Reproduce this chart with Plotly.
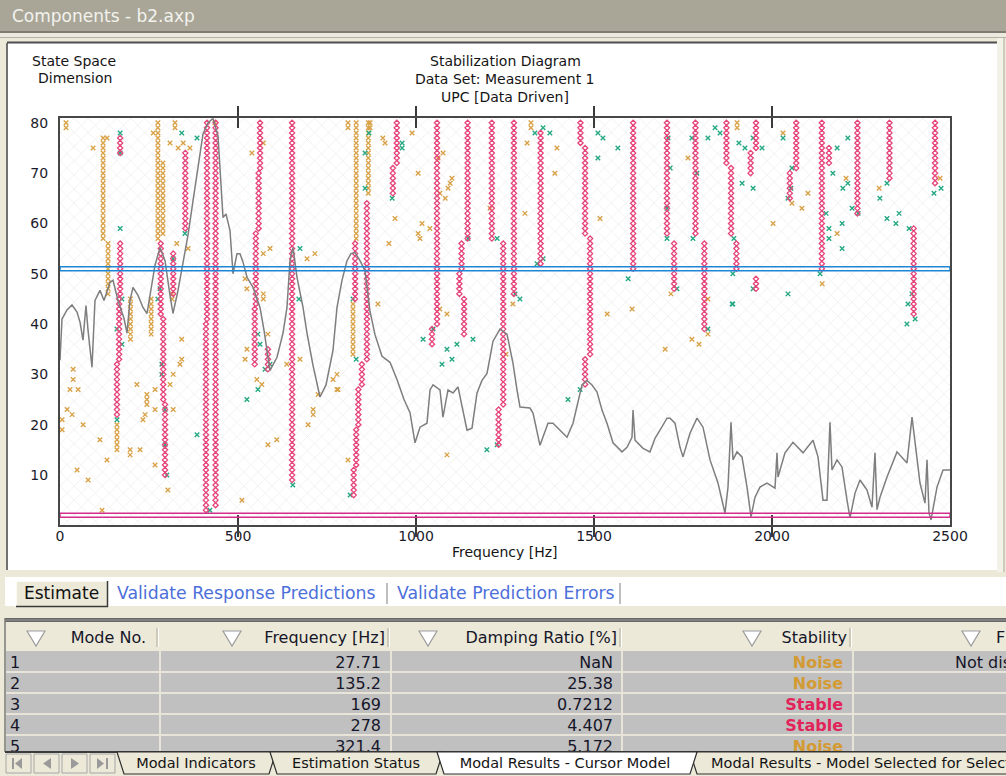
import plotly.graph_objects as go

# ---------------------------------------------------------------- data
# Stable poles: (frequency [Hz], first model order, last model order)
stable_segments = [
    (160, 22, 32), (166, 33, 45), (169, 46, 56), (169, 74, 77),
    (283, 42, 56), (290, 25, 41), (295, 10, 24),
    (318, 46, 54),
    (352, 59, 74),
    (410, 3, 40), (413, 41, 80),
    (437, 4, 80),
    (562, 71, 80), (558, 59, 70), (550, 44, 58), (547, 32, 43), (584, 31, 35),
    (652, 9, 80),
    (829, 45, 56), (862, 33, 64), (848, 28, 32), (838, 20, 27), (832, 12, 19), (825, 6, 11),
    (946, 72, 80), (935, 66, 71),
    (1059, 40, 80), (1045, 36, 39),
    (1145, 57, 80), (1128, 51, 56), (1122, 46, 50), (1135, 38, 45),
    (1213, 57, 80),
    (1245, 24, 56), (1232, 16, 23),
    (1275, 46, 80),
    (1350, 52, 78),
    (1462, 76, 80), (1475, 58, 75), (1489, 34, 57), (1475, 28, 33),
    (1610, 51, 80),
    (1705, 58, 80), (1725, 47, 56),
    (1785, 58, 80), (1810, 39, 56),
    (1872, 72, 80), (1885, 58, 71), (1900, 51, 56),
    (1955, 75, 80), (1940, 70, 74), (1955, 47, 49),
    (2068, 71, 80), (2050, 65, 70),
    (2140, 51, 80), (2160, 72, 75),
    (2240, 62, 80),
    (2330, 69, 80),
    (2398, 42, 59),
    (2458, 68, 80),
]

# Noise poles lying on vertical chains: (frequency, first order, last order)
noise_segments = [
    (121, 57, 77), (135, 46, 56), (160, 15, 20), (198, 37, 45),
    (275, 57, 80), (289, 58, 72), (256, 38, 45),
    (832, 57, 80), (866, 66, 80), (823, 34, 44),
]

# Isolated noise poles: (frequency, model order)
noise_points = [
    (17, 80), (17, 79), (93, 75), (132, 77), (262, 78), (323, 80), (323, 79), (309, 76),
    (346, 76), (332, 75), (365, 75), (435, 80), (539, 74), (571, 76), (590, 55), (571, 54),
    (571, 46), (571, 45), (694, 53), (716, 54), (360, 55), (328, 56), (520, 49), (525, 47),
    (315, 46), (315, 45),
    (37, 31), (37, 29), (28, 27), (51, 27), (20, 23), (34, 22), (6, 21), (6, 19), (65, 20),
    (112, 17), (48, 11), (79, 9), (132, 13), (118, 3), (197, 15), (225, 15), (197, 14),
    (216, 28), (244, 26), (244, 25), (244, 24), (267, 27), (267, 23), (233, 21), (239, 22),
    (267, 12), (318, 23), (309, 28), (318, 30), (337, 32), (342, 33), (342, 37), (303, 7),
    (511, 5), (520, 33), (525, 35), (584, 38), (553, 29), (567, 28), (584, 16), (609, 17),
    (637, 32), (674, 33), (697, 20), (711, 23), (711, 22), (725, 26), (767, 29), (778, 27),
    (778, 30),
    (809, 80), (809, 79), (871, 80), (871, 79), (907, 77), (913, 76), (989, 78), (1076, 74),
    (1062, 73), (1006, 70), (1101, 69), (1096, 68), (1090, 67), (1067, 66), (1082, 65),
    (941, 61), (1017, 60), (1039, 59), (1006, 58), (1011, 57), (924, 56), (1208, 63),
    (1306, 62), (1323, 80), (1323, 79), (1312, 76), (1396, 75), (1390, 70), (1517, 61),
    (893, 44), (1067, 43), (1087, 42), (1272, 44), (1537, 42), (1607, 43),
    (1087, 14), (809, 13), (1700, 35), (781, 27), (1253, 34),
    (1902, 80), (1902, 79), (2031, 78), (1764, 73), (2101, 66), (2056, 64), (2084, 63),
    (2003, 60), (2183, 58), (2141, 48), (2472, 69), (2301, 67), (2208, 69), (1716, 46),
    (1820, 45), (1775, 37), (1795, 36), (1820, 38),
]

# Poles stable in frequency only: (frequency, model order)
freq_stable_points = [
    (169, 78), (169, 74), (342, 78), (385, 77), (169, 59), (674, 55), (351, 58), (318, 53),
    (281, 47), (275, 45), (174, 45), (671, 45),
    (160, 39), (174, 36), (160, 21), (286, 32), (286, 30), (295, 23), (295, 16), (300, 10),
    (385, 18), (421, 3), (525, 25), (556, 27), (556, 38), (562, 36), (576, 31), (590, 32),
    (654, 8),
    (868, 78), (961, 76), (961, 75), (857, 74), (857, 67), (933, 65), (1146, 57), (1228, 57),
    (1334, 78), (1376, 78), (1357, 79), (1357, 53), (1340, 52), (1511, 78), (1525, 77),
    (1567, 75), (1511, 73), (1278, 46), (1292, 45), (1596, 49), (823, 45),
    (1020, 37), (1048, 39), (1115, 36), (1087, 35), (1101, 33), (1073, 32), (1160, 37),
    (1199, 15), (1228, 16), (1427, 25), (1461, 27), (815, 6), (832, 33),
    (1708, 77), (1775, 77), (1820, 77), (1840, 79), (1854, 78), (1907, 76), (1924, 75),
    (1947, 77), (1972, 75), (1714, 71), (1789, 70), (1916, 68), (1947, 67), (1705, 63),
    (1705, 57), (1778, 57), (1893, 57), (2056, 71), (2053, 67), (2045, 65), (2183, 75),
    (2213, 77), (2171, 70), (2213, 68), (2199, 67), (2225, 63), (2242, 62), (2152, 62),
    (2160, 59), (2160, 57), (2197, 60), (2197, 55), (2135, 50), (1890, 50), (2323, 68),
    (2303, 65), (2323, 61), (2348, 60), (2357, 62), (2385, 59), (2455, 66), (2475, 67),
    (1947, 47), (2045, 46), (1890, 44), (2393, 46), (2382, 44), (1733, 47), (2031, 77),
    (1888, 44), (1820, 39), (2379, 40), (2402, 41),
]

# Sum of FRFs drawn behind the poles: (frequency [Hz], level on the diagram scale)
frf_points = [
    (0, 32.8), (5.6, 41.0), (19.7, 42.8), (33.7, 43.8), (47.8, 42.4), (56.2, 40.4),
    (64.6, 36.8), (73, 43.7), (78.7, 38.8), (89.9, 31.4), (98.3, 44.7), (112.4, 46.7),
    (123.6, 44.7), (140.5, 48.3), (148.9, 48.7), (162.9, 44.7), (179.8, 41.1), (188.2, 38.2),
    (196.6, 44.7), (205.1, 47.3), (219.1, 45.7), (233.1, 43.3), (244.4, 42.1), (255.6, 46.7),
    (266.9, 51.7), (280.9, 55.2), (295, 52.6), (309, 45.7), (317.4, 42.1), (331.5, 46.7),
    (342.7, 51.3), (359.6, 57.7), (373.6, 64.5), (387.6, 71.5), (401.7, 77.8), (415.7, 80.0),
    (429.8, 80.9), (443.8, 77.4), (449.4, 71.1), (457.9, 61.2), (466.3, 61.9), (477.5, 58.6),
    (486, 50.0), (497.2, 54.0), (505.6, 54.0), (514.1, 52.3), (525.3, 49.3), (542.1, 47.3),
    (561.8, 43.3), (573, 38.8), (589.9, 30.8), (609.6, 33.4), (626.4, 38.2), (637.6, 43.3),
    (646.1, 52.6), (654.5, 55.2), (665.8, 49.3), (682.6, 43.3), (693.8, 38.2), (710.7, 31.8),
    (730.3, 25.5), (747.2, 27.9), (766.9, 34.8), (778.1, 43.3), (792.1, 48.7), (806.2, 52.6),
    (817.4, 54.0), (828.7, 54.2), (842.7, 52.6), (856.7, 50.6), (870.8, 42.5), (884.8, 37.9),
    (904.5, 33.6), (927, 32.4), (946.6, 29.0), (966.3, 25.0), (983.2, 22.4), (997.2, 16.4),
    (1011.3, 19.5), (1030.9, 20.3), (1039.4, 26.9), (1047.8, 27.9), (1067.4, 26.9),
    (1075.8, 21.5), (1089.9, 26.9), (1103.9, 26.3), (1118, 27.5), (1132, 22.9), (1143.3, 18.9),
    (1157.3, 19.3), (1171.4, 26.3), (1185.4, 28.8), (1199.5, 30.2), (1216.3, 36.6),
    (1236, 39.0), (1255.6, 38.0), (1272.5, 32.2), (1283.7, 26.9), (1292.1, 23.5),
    (1320.2, 23.3), (1328.7, 22.3), (1348.3, 15.9), (1370.8, 20.3), (1384.8, 20.3),
    (1412.9, 18.3), (1424.2, 17.5), (1441, 20.3), (1455.1, 24.9), (1466.3, 27.9),
    (1480.4, 28.8), (1494.4, 27.9), (1508.5, 26.5), (1522.5, 22.9), (1536.5, 20.3),
    (1553.4, 16.4), (1578.7, 14.6), (1592.7, 15.5), (1606.7, 17.5), (1609.6, 22.9),
    (1615.2, 16.9), (1637.7, 15.3), (1657.3, 14.6), (1671.4, 17.3), (1685.4, 18.9),
    (1705.1, 21.3), (1713.5, 21.3), (1727.5, 20.3), (1741.6, 15.5), (1750, 13.6),
    (1769.7, 18.3), (1789.3, 21.3), (1806.2, 19.5), (1825.9, 13.0), (1848.3, 8.4),
    (1868, 2.4), (1876.4, 7.6), (1884.8, 20.5), (1890.5, 13.0), (1901.7, 14.6),
    (1915.7, 13.6), (1929.8, 7.6), (1941, 1.7), (1952.3, 5.6), (1966.3, 7.6), (1986, 8.4),
    (2008.4, 7.4), (2014.1, 14.4), (2016.9, 9.6), (2036.5, 14.4), (2059, 16.5),
    (2087.1, 14.4), (2115.2, 16.9), (2129.2, 13.6), (2143.3, 5.0), (2154.5, 5.0),
    (2162.9, 20.5), (2168.5, 11.0), (2182.6, 13.0), (2196.6, 11.6), (2210.7, 5.0),
    (2219.1, 1.5), (2233.2, 6.4), (2247.2, 9.0), (2266.9, 7.0), (2280.9, 3.6),
    (2289.3, 14.4), (2295, 3.1), (2303.4, 5.6), (2323.1, 9.6), (2351.1, 14.6),
    (2379.2, 12.4), (2393.3, 21.5), (2401.7, 16.4), (2415.7, 8.4), (2429.8, 4.4),
    (2435.4, 13.0), (2441, 2.4), (2446.7, 1.1), (2463.5, 7.6), (2480.4, 11.0), (2500, 11.0),
]

x_ticks = [0, 500, 1000, 1500, 2000, 2500]
y_ticks = [10, 20, 30, 40, 50, 60, 70, 80]
x_range = [0, 2500]
y_range = [0, 80.9]

cursor_order = 51          # model selected by the cursor
lower_order_limit = 2      # minimum order line

# Modal results table for the cursor model
mode_no = [1, 2, 3, 4, 5]
mode_freq = ["27.71", "135.2", "169", "278", "321.4"]
mode_damping = ["NaN", "25.38", "0.7212", "4.407", "5.172"]
mode_stability = ["Noise", "Noise", "Stable", "Stable", "Noise"]
mode_display = ["Not displayed", "", "", "", ""]
table_headers = ["Mode No.", "Frequency [Hz]", "Damping Ratio [%]", "Stability", "F"]
sheet_tabs = ["Modal Indicators", "Estimation Status", "Modal Results - Cursor Model",
              "Modal Results - Model Selected for Selection"]

# ---------------------------------------------------------------- helpers
W, H = 1006, 776
FONT = "DejaVu Sans"
STABLE_C = "#E6457A"
NOISE_C = "#D9A248"
FREQ_C = "#25A883"
TXT_C = "#16162A"
STATUS_C = {"Noise": "#D49A33", "Stable": "#E2245B"}


def X(p):
    return p / W


def Y(p):
    return 1 - p / H


shapes, anns = [], []


def rect(x0, y0, x1, y1, fill=None, line=None, lw=1, layer="below"):
    shapes.append(dict(type="rect", xref="paper", yref="paper",
                       x0=X(x0), x1=X(x1), y0=Y(y1), y1=Y(y0),
                       fillcolor=fill or "rgba(0,0,0,0)",
                       line=dict(color=line or "rgba(0,0,0,0)", width=lw if line else 0),
                       layer=layer))


def seg(x0, y0, x1, y1, color, w=1, layer="below"):
    shapes.append(dict(type="line", xref="paper", yref="paper",
                       x0=X(x0), x1=X(x1), y0=Y(y0), y1=Y(y1),
                       line=dict(color=color, width=w), layer=layer))


def poly(pts, fill, line=None, lw=1, layer="below"):
    d = "M " + " L ".join(f"{X(a):.5f},{Y(b):.5f}" for a, b in pts) + " Z"
    shapes.append(dict(type="path", xref="paper", yref="paper", path=d,
                       fillcolor=fill, line=dict(color=line or "rgba(0,0,0,0)",
                                                 width=lw if line else 0),
                       layer=layer))


def text(x, y, s, size=14, color="#151515", anchor="left"):
    anns.append(dict(xref="paper", yref="paper", x=X(x), y=Y(y), text=s,
                     showarrow=False, xanchor=anchor, yanchor="middle",
                     font=dict(family=FONT, size=size, color=color)))


def expand(segments):
    fs, os_ = [], []
    for f, lo, hi in segments:
        for o in range(lo, hi + 1):
            fs.append(f)
            os_.append(o)
    return fs, os_


# ---------------------------------------------------------------- window chrome
rect(0, 0, W, 31, "#A9A698")
rect(0, 31, W, 33, "#7F7D72")
rect(0, 33, W, 37, "#ECEADF")
rect(0, 37, W, 38, "#B4B1A5")
rect(8, 43, 997, 570, "white")
seg(7, 43, 7, 570, "#707070", 2)
seg(7, 42.5, 997, 42.5, "#4E4E4E", 2)
rect(997, 38, 1003, 572, "#F3F2E9")
seg(1004, 38, 1004, 572, "#C4C1B2", 1.5)
text(10, 16, "Components - b2.axp", 17, "#F2F2EE")

# chart texts
text(74, 61, "State Space", 14, anchor="center")
text(75, 78, "Dimension", 14, anchor="center")
text(505, 61, "Stabilization Diagram", 14, anchor="center")
text(505, 79, "Data Set: Measurement 1", 14, anchor="center")
text(505, 97, "UPC [Data Driven]", 14, anchor="center")
text(505, 552, "Frequency [Hz]", 14, anchor="center")

# estimate / validation tab strip
rect(5, 577, W, 606, "white")
rect(16, 581, 107, 607, "#ECE9D8")
seg(16, 581, 107, 581, "#FFFFFF", 1.5)
seg(16, 581, 16, 607, "#FFFFFF", 1.5)
seg(16, 606.5, 108, 606.5, "#3A3A3A", 1.5)
seg(107.5, 581, 107.5, 607, "#3A3A3A", 1.5)
text(61, 593, "Estimate", 17, "#111111", "center")
text(115, 593, "Validate Response Predictions", 17.3, "#4D6FDA")
seg(387, 583, 387, 604, "#A9A9A9", 1.5)
text(395, 593, "Validate Prediction Errors", 17.3, "#4D6FDA")
seg(620, 583, 620, 604, "#A9A9A9", 1.5)

# table frame and header
rect(5, 618, W, 622, "#676767")
seg(5, 620, W, 620, "#9A9A9A", 1)
rect(5, 622, W, 650, "#ECE9D8")
seg(5, 618, 5, 752, "#7A7A7A", 1.5)
for xs in [157, 388, 620, 850]:
    seg(xs, 628, xs, 647, "#C3BFB1", 1.5)
    seg(xs + 1.5, 628, xs + 1.5, 647, "#FFFFFF", 1)
for cx in [36, 232, 428, 752, 971]:
    poly([(cx - 9, 631), (cx + 9, 631), (cx, 646)], "#FFFFFF", "#9C9C9C", 1.2)

# table rows
rect(6, 651, W, 752, "#C0C0C0")
for ys in [672, 693, 714, 735]:
    seg(6, ys, W, ys, "#E8E4D8", 2)
for xs in [160, 391, 622, 853]:
    seg(xs, 651, xs, 752, "#E8E4D8", 2)

# sheet tab bar at the bottom
rect(0, 752, W, H, "#ECE9D8")
seg(5, 752, W, 752, "#3C3C3C", 2)
for bx in [6, 34, 62, 90]:
    rect(bx, 754, bx + 25, 773, "#ECE9D8", "#A6A6A6", 1)
ic = "#9A9A9A"
seg(13, 758, 13, 769, ic, 2)
poly([(15, 763.5), (22, 758), (22, 769)], ic)
poly([(43, 763.5), (51, 758), (51, 769)], ic)
poly([(71, 758), (71, 769), (79, 763.5)], ic)
poly([(97, 758), (97, 769), (104, 763.5)], ic)
seg(107, 758, 107, 769, ic, 2)

tab_spans = [(117, 276), (270, 443), (437, 697), (690, 1060)]
active_tab = 2
for k in [0, 1, 3, 2]:
    x0, x1 = tab_spans[k]
    poly([(x0, 752), (x0 + 7, 774), (x1 - 7, 774), (x1, 752)],
         "#FFFFFF" if k == active_tab else "#ECE9D8", "#2E2E2E", 1.2)

# ---------------------------------------------------------------- traces
fig = go.Figure()

# hatched diagram background
fig.add_trace(go.Bar(
    x=[sum(x_range) / 2], y=[y_range[1]], width=[x_range[1] - x_range[0]], base=0,
    marker=dict(color="white", line=dict(width=0),
                pattern=dict(shape="x", size=10, solidity=0.12,
                             fgcolor="#D6D6D6", bgcolor="white")),
    hoverinfo="skip", showlegend=False))

nf, no = expand(noise_segments)
nf += [p[0] for p in noise_points]
no += [p[1] for p in noise_points]
fig.add_trace(go.Scatter(
    x=nf, y=no, mode="markers", hoverinfo="skip",
    marker=dict(symbol="x-thin", size=4.5, color=NOISE_C,
                line=dict(width=1.4, color=NOISE_C))))

fig.add_trace(go.Scatter(
    x=[p[0] for p in freq_stable_points], y=[p[1] for p in freq_stable_points],
    mode="markers", hoverinfo="skip",
    marker=dict(symbol="x-thin", size=4.5, color=FREQ_C,
                line=dict(width=1.4, color=FREQ_C))))

sf, so = expand(stable_segments)
fig.add_trace(go.Scatter(
    x=sf, y=so, mode="markers", hoverinfo="skip",
    marker=dict(symbol="diamond-open", size=4, color=STABLE_C,
                line=dict(width=1.3, color=STABLE_C))))

fig.add_trace(go.Scatter(
    x=[p[0] for p in frf_points], y=[p[1] for p in frf_points],
    mode="lines", yaxis="y2", hoverinfo="skip",
    line=dict(color="#7E7E7E", width=1.5)))

# table cells, written on a pixel grid that clips at the table edges
cell_x, cell_y, cell_t, cell_pos, cell_c = [], [], [], [], []


def cell(x, y, s, pos, color=TXT_C):
    cell_x.append(x)
    cell_y.append(y)
    cell_t.append(s)
    cell_pos.append(pos)
    cell_c.append(color)


for s, xr in zip(table_headers[:4], [146, 385, 617, 847]):
    cell(xr, 639, s, "middle left")
cell(996, 639, table_headers[4], "middle right")
for i in range(len(mode_no)):
    yc = 664 + 21 * i
    cell(10, yc, str(mode_no[i]), "middle right")
    cell(381, yc, mode_freq[i], "middle left")
    cell(613, yc, mode_damping[i], "middle left")
    cell(843, yc, "<b>" + mode_stability[i] + "</b>", "middle left",
         STATUS_C[mode_stability[i]])
    if mode_display[i]:
        cell(955, yc, mode_display[i], "middle right")

fig.add_trace(go.Scatter(
    x=cell_x, y=cell_y, text=cell_t, mode="text", textposition=cell_pos,
    textfont=dict(family=FONT, size=16, color=cell_c), cliponaxis=True,
    xaxis="x3", yaxis="y3", hoverinfo="skip"))

# sheet tab labels
tab_x = [196, 356, 565, 711]
tab_pos = ["middle center", "middle center", "middle center", "middle right"]
fig.add_trace(go.Scatter(
    x=tab_x, y=[764] * 4, text=sheet_tabs, mode="text", textposition=tab_pos,
    textfont=dict(family=FONT, size=14.5, color="#141414"), cliponaxis=True,
    xaxis="x3", yaxis="y4", hoverinfo="skip"))

# cursor bands
shapes.append(dict(type="rect", xref="x", yref="y", x0=x_range[0], x1=x_range[1],
                   y0=cursor_order - 0.4, y1=cursor_order + 0.4,
                   line=dict(color="#1F86D4", width=1.6), layer="above"))
shapes.append(dict(type="rect", xref="x", yref="y", x0=x_range[0], x1=x_range[1],
                   y0=lower_order_limit - 0.4, y1=lower_order_limit + 0.4,
                   line=dict(color="#D22E8C", width=1.4), layer="above"))

dom_x = [60 / W, 950 / W]
dom_y = [1 - 525.3 / H, 1 - 118.3 / H]
tick_font = dict(family=FONT, size=14, color="#1B1B2A")
hidden = dict(visible=False, showgrid=False, zeroline=False, fixedrange=True,
              automargin=False)

fig.update_layout(
    width=W, height=H, autosize=False,
    margin=dict(l=0, r=0, t=0, b=0, pad=0, autoexpand=False),
    paper_bgcolor="#ECE9D8", plot_bgcolor="rgba(0,0,0,0)",
    showlegend=False, hovermode=False, bargap=0,
    xaxis=dict(domain=dom_x, range=x_range, tickvals=x_ticks, ticks="inside",
               ticklen=10, tickwidth=2, tickcolor="#3A3A3A", mirror="allticks",
               showline=True, linecolor="#474747", linewidth=2, showgrid=False,
               zeroline=False, tickfont=tick_font, fixedrange=True,
               ticklabelstandoff=-3, automargin=False),
    yaxis=dict(domain=dom_y, range=y_range, tickvals=y_ticks, ticks="outside",
               ticklen=7, tickcolor="rgba(0,0,0,0)", showline=True, mirror=True,
               linecolor="#474747", linewidth=2, showgrid=False, zeroline=False,
               tickfont=tick_font, fixedrange=True, automargin=False),
    yaxis2=dict(domain=dom_y, range=y_range, overlaying="y", showline=False,
                showticklabels=False, showgrid=False, zeroline=False, ticks="",
                automargin=False),
    xaxis3=dict(domain=[0, 1], range=[0, W], anchor="y3", **hidden),
    yaxis3=dict(domain=[Y(751), Y(622)], range=[751, 622], anchor="x3", **hidden),
    yaxis4=dict(domain=[Y(776), Y(753)], range=[776, 753], anchor="x3", **hidden),
    shapes=shapes, annotations=anns,
)

fig.write_html(
    "out.html",
    config={"displayModeBar": False, "responsive": False},
    post_script="document.body.style.margin='0';"
                "document.body.style.overflow='hidden';",
)
